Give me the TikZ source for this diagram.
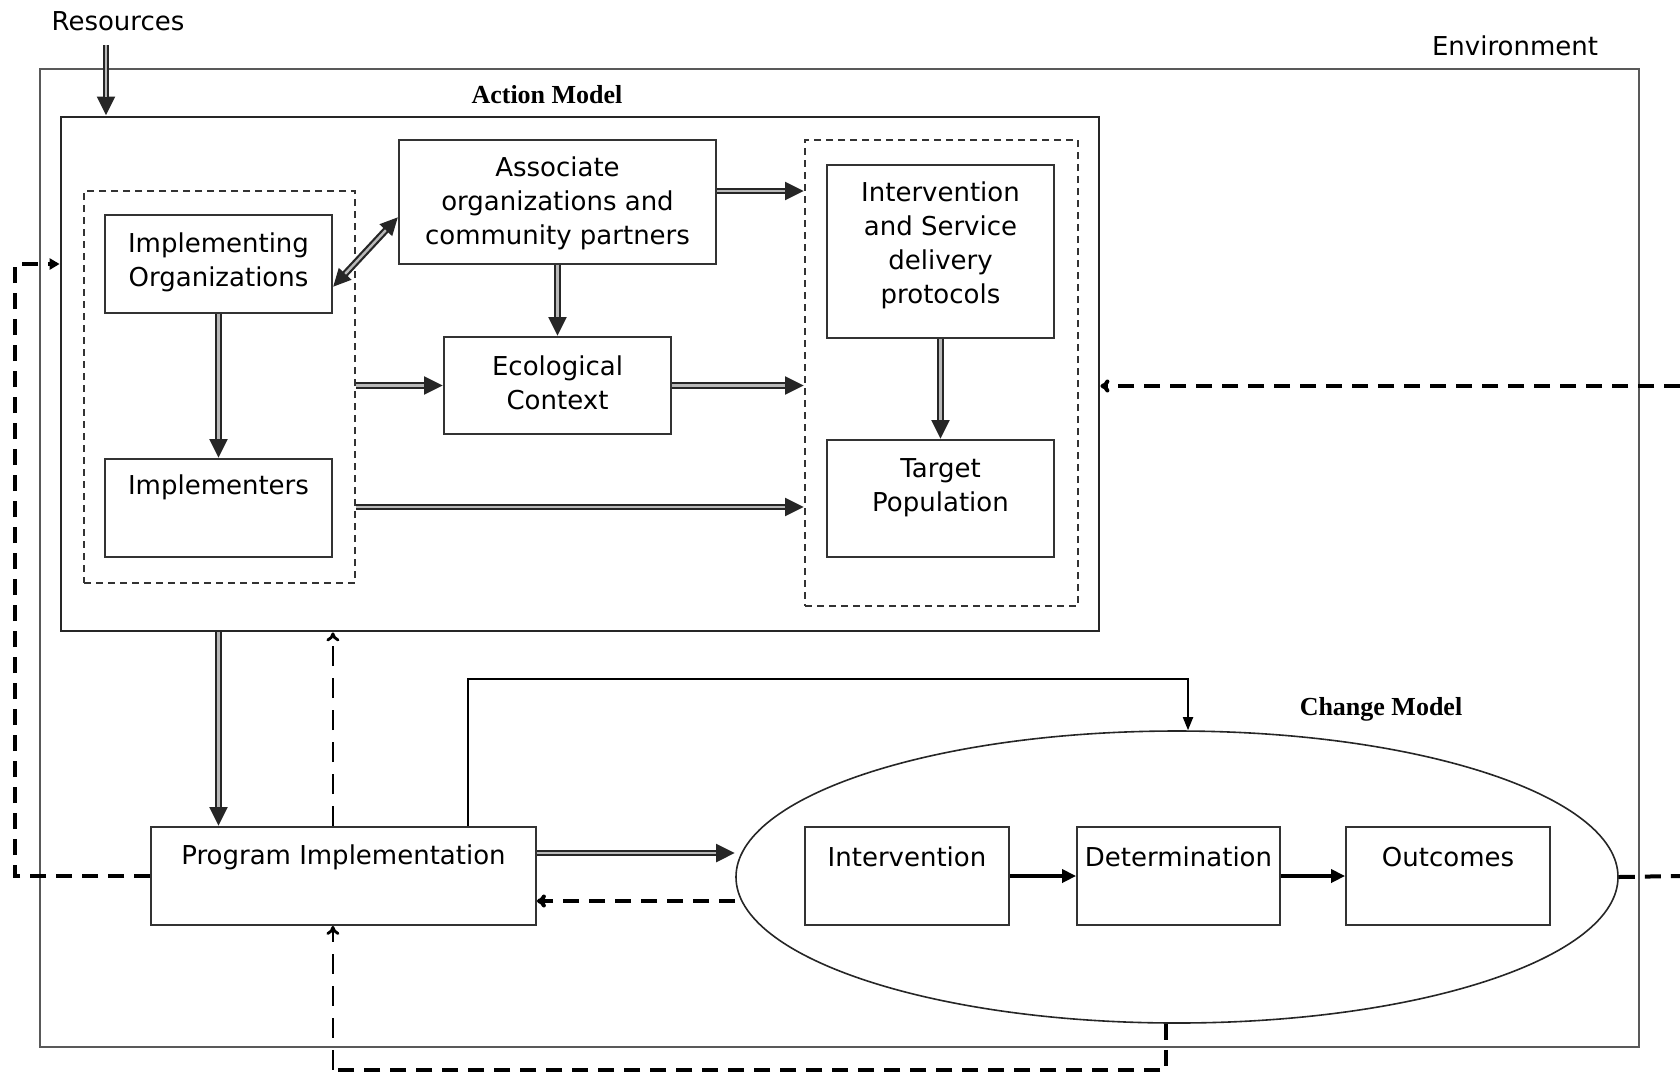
\documentclass[tikz,border=0pt]{standalone}
\usepackage{fontspec}
\setmainfont{DejaVu Sans}
\newfontfamily\serifbold{Liberation Serif}
\usetikzlibrary{arrows.meta,fit,calc,shapes.geometric}
\begin{document}
\begin{tikzpicture}[x=0.5pt,y=-0.5pt,
  box/.style={draw=black!80, line width=0.9pt, inner sep=0pt, fill=white},
  grp/.style={draw=black!80, line width=0.9pt, inner sep=0pt, dash pattern=on 3.5pt off 2.5pt},
  txt/.style={font=\fontsize{13}{17}\selectfont, align=center, inner sep=0pt},
  ttl/.style={font=\serifbold\fontsize{13}{15}\selectfont\bfseries, inner sep=0pt},
  dbl/.style={line width=3.4pt, black!85, -{Triangle[length=9.5pt,width=8.5pt]},
     postaction={draw, gray!55, line width=1.2pt, -, shorten >=9.5pt}},
  dblboth/.style={line width=3.4pt, black!85, {Triangle[length=9pt,width=8pt]}-{Triangle[length=9pt,width=8pt]},
     postaction={draw, gray!55, line width=1.2pt, -, shorten >=9pt, shorten <=9pt}},
  tdash/.style={line width=2pt, dash pattern=on 8pt off 5pt},
  vdash/.style={line width=1.4pt, dash pattern=on 10pt off 6pt},
  opentip/.style={-{To[length=4.5pt,width=6.5pt]}}
]
\useasboundingbox (0,0) rectangle (1680,1077);

% containers
\node[box, fit={(40,69) (1639,1047)}, draw=black!65, line width=0.7pt, fill=none] (env) {};
\node[box, fit={(61,117) (1099,631)}, line width=1.4pt, draw=black!85] (action) {};
\node[grp, fit={(84,191) (355,583)}] (leftgrp) {};
\node[grp, fit={(805,140) (1078,606)}] (rightgrp) {};

% boxes
\node[box, fit={(105,215) (332,313)}] (implorg) {};
\node[box, fit={(105,459) (332,557)}] (implementers) {};
\node[box, fit={(399,140) (716,264)}] (assoc) {};
\node[box, fit={(444,337) (671,434)}] (eco) {};
\node[box, fit={(827,165) (1054,338)}] (protocols) {};
\node[box, fit={(827,440) (1054,557)}] (target) {};
\node[box, fit={(151,827) (536,925)}] (progimpl) {};
\node[draw=black!85, ellipse, minimum width=441pt, minimum height=146pt, inner sep=0pt, line width=0.8pt] (cm) at (1177,877) {};
\node[box, fit={(805,827) (1009,925)}] (intv) {};
\node[box, fit={(1077,827) (1280,925)}] (det) {};
\node[box, fit={(1346,827) (1550,925)}] (out) {};

% texts
\node[txt] (t_res) at (118,21) {Resources};
\node[txt] (t_env) at (1515,46) {Environment};
\node[ttl] (t_am) at (547,95) {Action Model};
\node[ttl] (t_cm) at (1381,709) {Change Model};
\node[txt] (t_implorg) at (218.5,262) {Implementing\\Organizations};
\node[txt] (t_implementers) at (218.5,487) {Implementers};
\node[txt] (t_assoc) at (557.5,203) {Associate\\organizations and\\community partners};
\node[txt] (t_eco) at (557.5,383) {Ecological\\Context};
\node[txt] (t_prot) at (940.5,245) {Intervention\\and Service\\delivery\\protocols};
\node[txt] (t_target) at (940.5,488) {Target\\Population};
\node[txt] (t_prog) at (343.5,857) {Program Implementation};
\node[txt] (t_intv) at (907,857) {Intervention};
\node[txt] (t_det) at (1178.5,857) {Determination};
\node[txt] (t_out) at (1448,857) {Outcomes};

% connectors
\coordinate (resin) at (106,45);
\draw[dbl] (resin) -- (resin |- action.north);

\draw[dblboth] ($(implorg.east)+(0,23)$) -- ($(assoc.west)+(0,15)$);
\draw[dbl] (implorg.south) -- (implementers.north);
\draw[dbl] (assoc.south) -- (eco.north);
\coordinate (a1) at ($(assoc.east)+(0,-11)$);
\draw[dbl] (a1) -- (a1 -| rightgrp.west);
\draw[dbl] (leftgrp.east |- eco.west) -- (eco.west);
\draw[dbl] (eco.east) -- (eco.east -| rightgrp.west);
\coordinate (l1) at ($(leftgrp.east)+(0,120)$);
\draw[dbl] (l1) -- (l1 -| rightgrp.west);
\draw[dbl] (protocols.south) -- (target.north);

\draw[dbl] (action.south -| implorg.south) -- (progimpl.north -| implorg.south);
\draw[vdash, opentip] (progimpl.north -| implorg.east) -- (action.south -| implorg.east);

\coordinate (p1) at ($(progimpl.east)+(0,-23)$);
\draw[dbl] (p1) -- (p1 -| cm.west);
\coordinate (p2) at ($(progimpl.east)+(0,25)$);
\draw[tdash, opentip] (p2 -| cm.west) -- (p2);

\coordinate (q) at ($(progimpl.north east)+(-69,0)$);
\coordinate (cmtop) at ($(cm.north)+(11,0)$);
\coordinate (qt) at ($(cmtop)+(0,-51)$);
\draw[line width=0.9pt, -{Triangle[length=6.5pt,width=5pt]}] (q) -- (q |- qt) -- (qt) -- (cmtop);

\draw[line width=2pt, -{Triangle[length=7pt,width=6.5pt]}] (intv.east) -- (det.west);
\draw[line width=2pt, -{Triangle[length=7pt,width=6.5pt]}] (det.east) -- (out.west);

\coordinate (cmbot) at ($(cm.south)+(-11,0)$);
\coordinate (b1) at ($(cmbot)+(0,46)$);
\draw[tdash] (cmbot) -- (b1) -- (b1 -| implorg.east);
\draw[vdash, opentip] (b1 -| implorg.east) -- (progimpl.south -| implorg.east);

\coordinate (lp) at ($(progimpl.west)+(-135,0)$);
\draw[tdash, -{Triangle[length=5pt,width=5.5pt]}] (progimpl.west) -- (lp) |- (action.west |- implorg.west);

\coordinate (r1) at (1680,876);
\draw[tdash] (cm.east) -- (r1);
\coordinate (r2) at (1680,386);
\draw[tdash, -{To[length=4.5pt,width=6.5pt]}] (r2) -- (r2 -| action.east);
\end{tikzpicture}
\end{document}
